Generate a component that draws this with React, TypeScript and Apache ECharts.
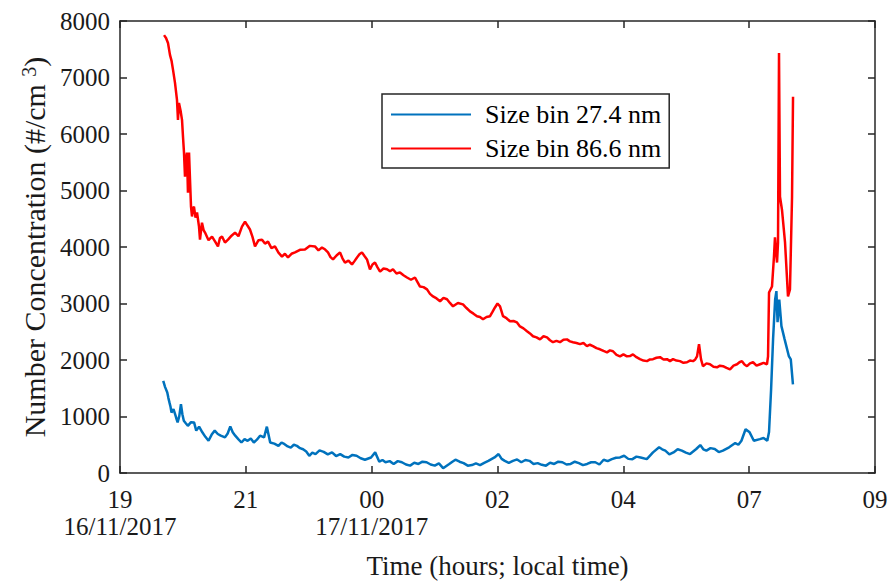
import React, { useEffect, useRef } from "react";
import * as echarts from "echarts";

// Time is measured in minutes after 19:00 on 16/11/2017.
const xTickLabels = ["19\n16/11/2017", "21", "00\n17/11/2017", "02", "04", "07", "09"];
const yTickValues = [0, 1000, 2000, 3000, 4000, 5000, 6000, 7000, 8000];

const seriesNames = ["Size bin 27.4 nm", "Size bin 86.6 nm"];

// 27.4 nm size bin
const smallTime = [
  48.1, 50.2, 52.6, 53.8, 55.0, 56.1, 57.3, 59.5, 61.9, 63.0, 64.1, 66.0, 67.8, 69.4, 71.0, 73.2,
  75.5, 79.0, 82.4, 84.8, 88.0, 91.6, 95.0, 98.5, 102.0, 105.4, 108.8, 112.1, 116.8, 119.8,
  122.7, 125.4, 128.2, 131.6, 135.1, 138.6, 142.0, 145.5, 148.9, 152.3, 155.8, 160.3, 163.4,
  167.1, 171.7, 176.3, 179.7, 183.1, 186.6, 190.0, 193.4, 196.9, 200.3, 203.7, 207.2, 210.6,
  214.0, 217.5, 222.0, 226.6, 231.2, 235.9, 240.4, 245.0, 249.5, 254.1, 258.6, 263.2, 267.8,
  272.5, 279.3, 283.9, 288.5, 292.0, 295.4, 300.0, 304.5, 309.0, 313.6, 318.2, 322.8, 327.4,
  332.0, 336.5, 341.1, 345.6, 350.2, 354.8, 359.5, 366.3, 369.8, 373.2, 377.8, 382.3, 386.9,
  391.5, 396.0, 400.6, 405.2, 409.8, 416.7, 421.2, 424.6, 428.1, 432.6, 437.2, 441.8, 446.5,
  451.0, 455.6, 460.1, 464.7, 469.3, 473.9, 478.5, 483.1, 487.6, 492.2, 496.8, 501.4, 506.0,
  510.6, 515.1, 519.7, 524.2, 528.8, 533.4, 538.1, 542.6, 547.2, 551.8, 556.3, 560.9, 565.5,
  570.1, 574.6, 579.2, 586.1, 593.0, 599.8, 603.2, 606.7, 611.2, 615.8, 620.4, 625.1, 629.6,
  634.2, 641.1, 645.6, 649.0, 652.4, 657.0, 661.7, 666.2, 670.8, 677.7, 684.5, 688.0, 691.4,
  696.0, 700.5, 705.2, 711.9, 716.0, 720.2, 722.1, 724.4, 726.6, 728.9, 730.3, 731.6, 733.5,
  735.9, 739.4, 744.1, 746.3, 748.7,
];
const smallValues = [
  1630, 1520, 1425, 1330, 1250, 1180, 1070, 1130, 1010, 950, 895, 1010, 1220, 1040, 925, 880,
  835, 900, 895, 750, 820, 720, 640, 570, 680, 750, 690, 660, 630, 700,
  825, 720, 660, 600, 540, 600, 570, 610, 540, 590, 660, 630, 820,
  540, 520, 480, 540, 510, 470, 450, 500, 480, 440, 420, 380, 305,
  360, 335, 400, 375, 330, 365, 300, 335, 290, 275, 320, 305, 260,
  235, 275, 365, 200, 230, 190, 210, 160, 210, 190, 150, 130, 180,
  160, 200, 190, 150, 130, 170, 85, 160, 200, 235, 200, 175, 130,
  140, 170, 140, 180, 215, 275, 335, 250, 215, 180, 215, 240, 190,
  230, 215, 160, 175, 145, 130, 180, 160, 200, 190, 150, 160, 200,
  175, 140, 160, 190, 190, 150, 235, 210, 245, 270, 275, 305, 250,
  245, 290, 275, 245, 365, 455, 420, 395, 330, 365, 420, 395, 360,
  335, 425, 495, 420, 395, 440, 425, 370, 395, 455, 530, 500, 570,
  775, 720, 570, 600, 620, 570, 725, 1480, 2370, 3070, 3220, 2670, 3070,
  2600, 2370, 2070, 2010, 1570,
];

// 86.6 nm size bin
const largeTime = [
  49.0, 51.2, 53.4, 55.6, 57.3, 59.0, 61.2, 63.4, 64.5, 65.6, 67.3, 69.0, 70.1, 71.2, 72.3, 73.4,
  74.5, 75.6, 76.8, 77.9, 79.0, 80.1, 81.2, 82.3, 84.0, 85.7, 87.9, 89.0, 91.2, 93.0, 94.6,
  98.5, 102.4, 105.7, 109.0, 111.2, 113.5, 116.8, 120.2, 124.1, 128.0, 131.8, 135.7, 139.1,
  141.8, 144.6, 147.4, 150.2, 154.1, 158.0, 161.3, 164.7, 168.5, 172.4, 176.3, 180.2, 183.5,
  186.9, 190.8, 194.7, 200.2, 205.8, 211.3, 216.9, 220.8, 224.7, 228.0, 231.4, 234.2, 237.0,
  240.9, 244.8, 247.5, 250.3, 254.2, 258.1, 260.9, 263.7, 266.4, 269.2, 272.0, 274.8, 278.1,
  280.9, 283.7, 286.5, 289.3, 293.2, 297.1, 300.4, 303.7, 307.6, 311.5, 315.4, 319.3, 323.7,
  328.2, 331.0, 333.8, 337.7, 341.6, 344.9, 348.3, 352.2, 356.1, 359.9, 363.8, 367.1, 370.5,
  376.0, 381.6, 385.5, 389.4, 393.3, 397.2, 400.5, 403.9, 407.8, 411.7, 414.4, 417.2, 420.0,
  422.8, 426.1, 430.0, 433.9, 437.8, 441.7, 445.0, 448.9, 452.8, 456.1, 459.5, 463.4, 467.3,
  471.2, 475.1, 478.4, 481.7, 485.6, 489.5, 493.4, 497.3, 500.6, 504.0, 507.9, 511.8, 515.6,
  519.5, 522.8, 526.2, 530.1, 534.0, 537.9, 541.8, 545.1, 548.5, 552.4, 556.3, 560.1, 564.0,
  567.3, 570.7, 574.6, 578.5, 582.4, 586.3, 589.6, 593.0, 596.9, 600.8, 604.7, 608.6, 611.9,
  615.3, 619.1, 623.0, 626.9, 630.8, 634.1, 637.5, 640.0, 642.0, 644.2, 646.4, 648.6, 652.5,
  656.4, 660.3, 664.2, 667.5, 670.9, 674.8, 678.7, 682.6, 686.5, 689.2, 692.0, 694.8, 697.6,
  700.9, 704.3, 708.2, 712.1, 716.0, 719.8, 721.0, 722.1, 725.4, 727.6, 728.7, 731.0, 732.1,
  733.2, 734.3, 736.5, 739.9, 743.2, 745.4, 747.7, 748.8,
];
const largeValues = [
  7750, 7700, 7610, 7400, 7300, 7135, 6905, 6605, 6250, 6550, 6420, 6250, 5950, 5670, 5245, 5560,
  5670, 4960, 5670, 5190, 4715, 4540, 4680, 4715, 4520, 4610, 4360, 4130, 4430, 4300, 4255,
  4120, 4185, 4100, 4010, 4160, 4185, 4080, 4130, 4200, 4255, 4190, 4360, 4450,
  4380, 4310, 4180, 4010, 4120, 4130, 4060, 4095, 3980, 4010, 3900, 3830, 3880,
  3815, 3880, 3905, 3950, 3955, 4020, 4010, 3940, 3990, 3960, 3905, 3820, 3780,
  3850, 3905, 3800, 3725, 3760, 3690, 3750, 3815, 3870, 3905, 3840, 3780, 3605,
  3690, 3725, 3640, 3565, 3620, 3605, 3570, 3605, 3530, 3550, 3500, 3460, 3420,
  3460, 3380, 3300, 3290, 3250, 3170, 3125, 3090, 3040, 3100, 3075, 3010, 2950,
  3010, 2985, 2920, 2860, 2820, 2775, 2760, 2720, 2760, 2775, 2850, 2930, 3000,
  2950, 2775, 2740, 2685, 2690, 2665, 2595, 2560, 2510, 2470, 2420, 2400, 2365,
  2420, 2400, 2350, 2315, 2340, 2315, 2360, 2365, 2330, 2315, 2300, 2280, 2300,
  2245, 2270, 2245, 2210, 2190, 2160, 2135, 2170, 2155, 2090, 2065, 2100, 2065,
  2070, 2100, 2050, 2015, 1990, 1980, 2010, 2015, 2040, 2050, 2010, 2015, 1980,
  2015, 1990, 1980, 1950, 1960, 1990, 1980, 2010, 2065, 2280, 2015, 1890, 1940,
  1925, 1880, 1870, 1900, 1890, 1860, 1835, 1900, 1925, 1960, 1980, 1920, 1890,
  1940, 1960, 1900, 1925, 1950, 1925, 2065, 3195, 3300, 3830, 4170, 3725, 4080,
  7435, 4890, 4660, 4080, 3125, 3250, 4890, 6660,
];

const smallData = smallTime.map((t, i) => [t, smallValues[i]]);
const largeData = largeTime.map((t, i) => [t, largeValues[i]]);

const FONT = "'Liberation Serif', 'Times New Roman', serif";
const INK = "#262626";
const TEXT = "#1a1a1a";

export default function App() {
  const ref = useRef<HTMLDivElement>(null);

  useEffect(() => {
    if (!ref.current) return;
    const chart = echarts.init(ref.current, null, { renderer: "svg" });

    const frameLine = { lineStyle: { color: INK, width: 1.5 } };
    const innerTicks = { inside: true, length: 7, lineStyle: { color: INK, width: 1.5 } };

    chart.setOption({
      animation: false,
      backgroundColor: "#ffffff",
      textStyle: { fontFamily: FONT },
      grid: { left: 120, right: 18, top: 21, bottom: 110, containLabel: false },
      legend: {
        data: seriesNames,
        orient: "vertical",
        left: 382,
        top: 94,
        padding: [7, 8, 6, 9],
        itemGap: 7,
        itemWidth: 80,
        itemHeight: 2,
        icon: "rect",
        backgroundColor: "#ffffff",
        borderColor: INK,
        borderWidth: 1.5,
        textStyle: {
          fontFamily: FONT,
          fontSize: 26,
          lineHeight: 27,
          color: "#000000",
          padding: [0, 0, 0, 9],
        },
      },
      xAxis: [
        {
          type: "value",
          position: "bottom",
          min: 0,
          max: 840,
          interval: 140,
          axisLine: { show: true, onZero: false, ...frameLine },
          axisTick: innerTicks,
          splitLine: { show: false },
          axisLabel: {
            formatter: (v: number) => xTickLabels[Math.round(v / 140)] ?? "",
            fontFamily: FONT,
            fontSize: 25,
            lineHeight: 27,
            margin: 13,
            color: TEXT,
          },
          name: "Time (hours; local time)",
          nameLocation: "middle",
          nameGap: 79,
          nameTextStyle: { fontFamily: FONT, fontSize: 27, color: TEXT },
        },
        {
          type: "value",
          position: "top",
          min: 0,
          max: 840,
          interval: 140,
          axisLine: { show: true, onZero: false, ...frameLine },
          axisTick: innerTicks,
          axisLabel: { show: false },
          splitLine: { show: false },
        },
      ],
      yAxis: [
        {
          type: "value",
          position: "left",
          min: yTickValues[0],
          max: yTickValues[yTickValues.length - 1],
          interval: 1000,
          axisLine: { show: true, onZero: false, ...frameLine },
          axisTick: innerTicks,
          splitLine: { show: false },
          axisLabel: {
            formatter: (v: number) => String(v),
            fontFamily: FONT,
            fontSize: 25,
            margin: 10,
            color: TEXT,
          },
          name: "Number Concentration (#/cm {sup|3})",
          nameLocation: "middle",
          nameGap: 68,
          nameTextStyle: {
            fontFamily: FONT,
            fontSize: 30,
            color: TEXT,
            rich: {
              sup: { fontFamily: FONT, fontSize: 20, color: TEXT, verticalAlign: "top" },
            },
          },
        },
        {
          type: "value",
          position: "right",
          min: yTickValues[0],
          max: yTickValues[yTickValues.length - 1],
          interval: 1000,
          axisLine: { show: true, onZero: false, ...frameLine },
          axisTick: innerTicks,
          axisLabel: { show: false },
          splitLine: { show: false },
        },
      ],
      series: [
        {
          name: seriesNames[0],
          type: "line",
          xAxisIndex: 0,
          yAxisIndex: 0,
          data: smallData,
          symbol: "none",
          color: "#0072BD",
          lineStyle: { color: "#0072BD", width: 2.5 },
        },
        {
          name: seriesNames[1],
          type: "line",
          xAxisIndex: 0,
          yAxisIndex: 0,
          data: largeData,
          symbol: "none",
          color: "#FF0000",
          lineStyle: { color: "#FF0000", width: 2.5 },
        },
      ],
    });

    return () => chart.dispose();
  }, []);

  return (
    <div
      ref={ref}
      style={{ position: "absolute", left: 0, top: 0, width: 893, height: 584 }}
    />
  );
}
